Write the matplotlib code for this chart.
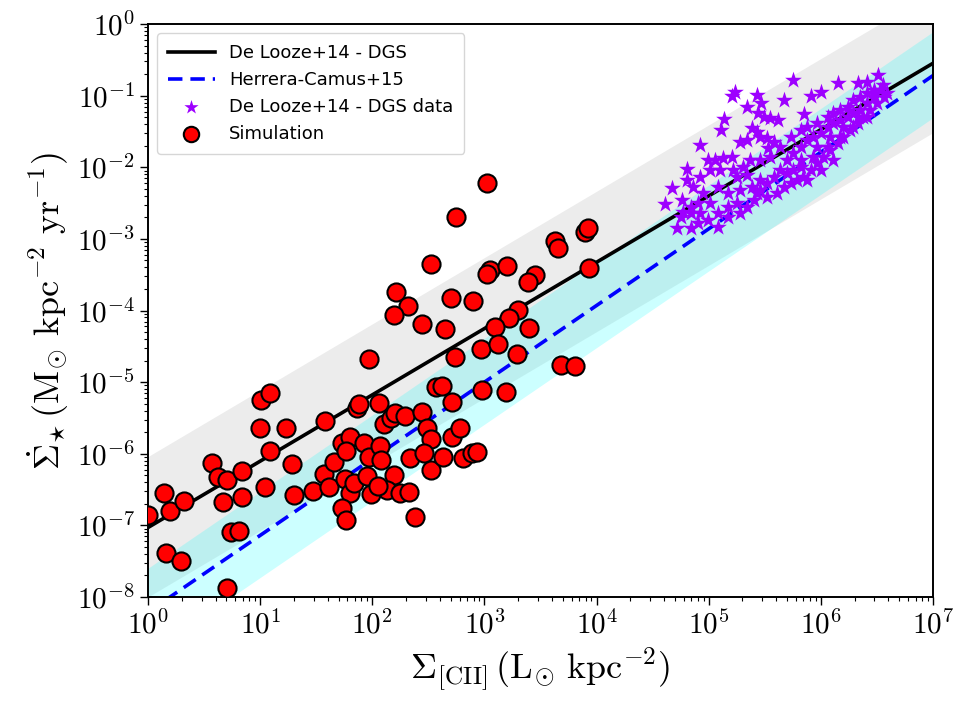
import numpy as np
import matplotlib
matplotlib.use("Agg")
import matplotlib.pyplot as plt
from matplotlib.ticker import FuncFormatter, LogLocator

plt.rcParams['mathtext.fontset'] = 'cm'

# ---- relations (log-linear fits) ----
delooze_slope, delooze_intercept, delooze_scatter = 0.926, -7.03, 0.98
herrera_slope, herrera_intercept, herrera_scatter = 1.07, -8.21, 0.60

# ---- simulation points: log10 Sigma_[CII], log10 Sigma_SFR ----
sim_log_cii = [0.00, 0.14, 0.20, 0.32, 0.16, 0.29, 0.57, 0.62, 0.70, 0.67, 0.84, 0.84, 0.74, 0.81,
               0.70, 1.01, 1.09, 1.00, 1.09, 1.04, 1.23, 1.28, 1.30, 1.47, 1.58, 1.57, 1.61, 1.66,
               1.73, 1.80, 1.77, 1.76, 1.80, 1.73, 1.77, 1.84, 1.86, 1.88, 1.93, 1.97, 2.07, 2.08,
               1.95, 1.99, 2.06, 2.10, 2.17, 2.20, 2.29, 2.19, 2.13, 2.25, 2.33, 2.34, 2.38, 2.44,
               2.49, 2.52, 2.46, 2.52, 2.63, 2.57, 2.62, 2.71, 2.71, 2.78, 2.81, 2.89, 2.93, 2.98,
               3.19, 3.02, 2.75, 3.90, 3.92, 3.63, 3.66, 2.52, 3.05, 3.02, 3.20, 3.45, 3.39, 3.93,
               2.21, 2.32, 2.19, 2.44, 2.65, 2.70, 2.90, 3.30, 3.22, 3.09, 3.40, 1.97, 2.97, 3.12,
               2.74, 3.29, 3.68, 3.81, 2.05]
sim_log_sfr = [-6.86, -6.55, -6.80, -6.66, -7.39, -7.50, -6.13, -6.33, -6.37, -6.68, -6.24, -6.61, -7.09, -7.08,
               -7.88, -5.25, -5.15, -5.64, -5.96, -6.47, -5.64, -6.15, -6.58, -6.52, -5.54, -6.28, -6.47, -6.12,
               -5.85, -5.77, -5.96, -6.35, -6.55, -6.76, -6.93, -6.41, -5.36, -5.31, -5.85, -6.05, -5.89, -6.09,
               -6.31, -6.56, -5.29, -5.59, -5.50, -5.43, -5.47, -6.30, -6.51, -6.55, -6.54, -6.06, -6.89, -5.42,
               -5.64, -5.80, -5.99, -6.22, -6.05, -5.07, -5.06, -5.28, -5.77, -5.64, -6.06, -5.99, -5.98, -5.11,
               -5.14, -2.22, -2.70, -2.91, -2.85, -3.03, -3.13, -3.35, -3.44, -3.49, -3.38, -3.51, -3.60, -3.41,
               -3.74, -3.94, -4.06, -4.19, -4.26, -3.83, -3.87, -3.99, -4.11, -4.23, -4.25, -4.68, -4.54, -4.47,
               -4.65, -4.61, -4.76, -4.78, -6.45]

# ---- De Looze+14 DGS data: log10 Sigma_[CII], log10 Sigma_SFR ----
dgs_log_cii = [4.61, 4.72, 4.84, 4.76, 4.67, 4.81, 4.92, 5.11, 5.14, 5.23, 5.21, 5.34, 5.43, 5.47, 5.67,
               5.75, 5.85, 5.91, 6.00, 6.15, 6.33, 6.51, 6.41, 6.53, 6.59, 5.49, 5.55, 5.62, 5.44, 5.28,
               5.34, 5.39, 5.43, 5.46, 5.52, 5.58, 5.53, 4.99, 5.06, 5.13, 5.21, 5.01, 5.10, 5.22, 5.31,
               5.25, 5.34, 4.92, 4.86, 4.81, 4.95, 5.08, 5.17, 5.28, 5.39, 5.46, 5.43, 5.52, 5.01, 4.90,
               4.92, 4.84, 5.08, 4.77, 4.99, 4.90, 5.82, 5.88, 5.97, 6.06, 6.11, 6.17, 6.24, 6.29, 6.35,
               6.41, 6.47, 6.55, 6.56, 6.50, 6.44, 6.38, 6.33, 6.26, 6.20, 6.15, 6.08, 6.02, 5.97, 5.91,
               5.84, 5.79, 5.73, 5.67, 5.61, 5.70, 5.75, 5.82, 5.88, 5.93, 6.00, 6.06, 6.11, 6.17, 6.24,
               6.29, 6.35, 6.41, 6.47, 5.64, 5.58, 5.52, 5.46, 5.70, 5.82, 5.93, 6.06, 6.17, 6.29, 6.41,
               6.11, 6.00, 5.88, 5.75, 5.40, 5.34, 5.37, 5.46, 5.55, 5.64, 5.73, 5.82, 5.97, 6.08, 6.20,
               6.33, 4.84, 4.75, 5.17, 5.25, 5.28, 5.17, 5.08]
dgs_log_sfr = [-2.51, -2.85, -2.85, -2.46, -2.29, -2.03, -1.69, -1.48, -1.33, -0.95, -1.01, -1.16, -0.99, -1.10, -1.06,
               -0.78, -1.26, -1.01, -0.95, -0.82, -0.82, -0.71, -0.81, -0.92, -0.96, -1.30, -1.31, -1.34, -1.24, -1.65,
               -1.62, -1.45, -1.51, -1.58, -1.59, -1.65, -1.73, -1.90, -1.90, -1.87, -1.86, -2.04, -2.04, -2.04, -2.00,
               -2.14, -2.11, -2.14, -2.28, -2.18, -2.36, -2.28, -2.36, -2.32, -2.28, -2.18, -2.36, -2.42, -2.50, -2.50,
               -2.64, -2.64, -2.64, -2.63, -2.74, -2.78, -1.48, -1.44, -1.38, -1.30, -1.24, -1.20, -1.16, -1.06, -1.02,
               -0.96, -0.92, -0.85, -1.02, -1.10, -1.20, -1.30, -1.38, -1.48, -1.58, -1.66, -1.76, -1.86, -1.94, -2.04,
               -2.14, -2.18, -2.22, -2.28, -2.36, -1.90, -1.80, -1.72, -1.62, -1.58, -1.52, -1.44, -1.38, -1.34, -1.30,
               -1.24, -1.20, -1.10, -1.02, -2.04, -2.14, -2.22, -2.32, -2.08, -2.00, -1.86, -1.72, -1.58, -1.44, -1.30,
               -1.90, -2.04, -2.18, -2.04, -2.46, -2.56, -1.90, -1.90, -1.86, -1.72, -1.58, -1.90, -1.72, -1.58, -1.44,
               -1.30, -2.56, -2.70, -2.56, -2.50, -2.64, -2.70, -2.84]

legend_labels = ["De Looze+14 - DGS", "Herrera-Camus+15", "De Looze+14 - DGS data", "Simulation"]

fig = plt.figure(figsize=(9.6, 7.2), dpi=100)
ax = fig.add_axes([148/960, 1 - 597/720, (933 - 148)/960, (597 - 24)/720])

lx = np.linspace(-1, 8, 200)
xx = 10**lx
y_dl = delooze_intercept + delooze_slope * lx
y_hc = herrera_intercept + herrera_slope * lx

ax.fill_between(xx, 10**(y_dl - delooze_scatter), 10**(y_dl + delooze_scatter),
                color='grey', alpha=0.15, lw=0, zorder=1)
ax.fill_between(xx, 10**(y_hc - herrera_scatter), 10**(y_hc + herrera_scatter),
                color='cyan', alpha=0.2, lw=0, zorder=1.1)

ax.plot(xx, 10**y_dl, color='black', lw=2.6, zorder=2, label=legend_labels[0])
ax.plot(xx, 10**y_hc, color='blue', lw=2.6, ls=(0, (4, 2.2)), zorder=2, label=legend_labels[1])

ax.scatter(10**np.array(dgs_log_cii), 10**np.array(dgs_log_sfr), marker='*', s=160,
           color='#9d00ff', lw=0, zorder=3, label=legend_labels[2])
ax.scatter(10**np.array(sim_log_cii), 10**np.array(sim_log_sfr), marker='o', s=170,
           facecolor='red', edgecolor='black', lw=1.5, zorder=4, label=legend_labels[3])

ax.set_xscale('log')
ax.set_yscale('log')
ax.set_xlim(1, 1e7)
ax.set_ylim(1e-8, 1)

fmt = FuncFormatter(lambda v, p: r'$10^{%d}$' % int(round(np.log10(v))))
ax.xaxis.set_major_locator(LogLocator(base=10, numticks=20))
ax.yaxis.set_major_locator(LogLocator(base=10, numticks=20))
ax.xaxis.set_major_formatter(fmt)
ax.yaxis.set_major_formatter(fmt)
ax.xaxis.set_minor_locator(LogLocator(base=10, subs=np.arange(2, 10), numticks=100))
ax.yaxis.set_minor_locator(LogLocator(base=10, subs=np.arange(2, 10), numticks=100))
ax.tick_params(which='major', length=6, width=1.0, labelsize=21)
ax.tick_params(which='minor', length=3, width=0.8)
for s in ax.spines.values():
    s.set_linewidth(1.4)

ax.set_xlabel(r'$\Sigma_{\rm [CII]}\,(\mathrm{L_{\odot}\ kpc^{-2}})$', fontsize=26)
ax.set_ylabel(r'$\dot{\Sigma}_{\star}\,(\mathrm{M_{\odot}\ kpc^{-2}\ yr^{-1}})$', fontsize=26)

leg = ax.legend(loc='upper left', prop={'family': 'DejaVu Sans', 'size': 13},
                handlelength=2.6, borderpad=0.6, labelspacing=0.5, markerscale=0.85)
leg.get_frame().set_linewidth(1.0)

fig.savefig('out.png', dpi=100)
